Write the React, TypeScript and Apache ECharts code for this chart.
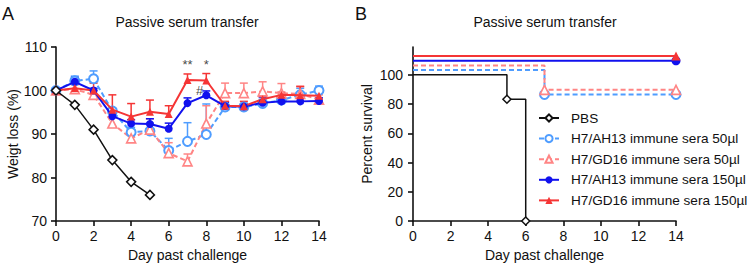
import React, { useEffect, useRef } from "react";
import * as echarts from "echarts";

// ---------- Data ----------
const days = [0, 1, 2, 3, 4, 5, 6, 7, 8, 9, 10, 11, 12, 13, 14];
const xTicks = [0, 2, 4, 6, 8, 10, 12, 14];
const weightTicks = [70, 80, 90, 100, 110];
const survivalTicks = [0, 20, 40, 60, 80, 100];

const seriesNames = [
  "PBS",
  "H7/AH13 immune sera 50\u00b5l",
  "H7/GD16 immune sera 50\u00b5l",
  "H7/AH13 immune sera 150\u00b5l",
  "H7/GD16 immune sera 150\u00b5l",
];

// Weight (%) means
const pbsWeight = [100, 96.7, 91, 84, 79, 76];
const ah13Low = [100, 102.2, 102.7, 95.3, 90.4, 90.7, 86.2, 88.3, 89.9, 96.2, 96.2, 97, 97.8, 99, 100];
const gd16Low = [100, 100.3, 99, 92.4, 89, 91, 85.6, 83.7, 92.4, 99.4, 99.4, 99.8, 99.4, 99.2, 97.9];
const ah13High = [100, 102, 100, 94.1, 92.4, 92.3, 91.2, 97.1, 98.9, 96.4, 96.3, 97.2, 97.5, 97.5, 97.6];
const gd16High = [100, 100.5, 100, 95.6, 94, 95.1, 94.6, 102.4, 102.3, 96.5, 96.4, 98, 99, 98.9, 98.8];

// Upper error (SEM) magnitudes
const ah13LowErr = [0, 1.1, 1.8, 0.7, 1.1, 1.8, 2.8, 4.3, 7.0, 1.1, 0.8, 1.0, 0.7, 1.5, 1.0];
const gd16LowErr = [0, 1.0, 1.0, 1.6, 1.5, 2.5, 2.4, 1.7, 4.1, 2.3, 2.3, 2.2, 2.2, 1.8, 1.1];
const ah13HighErr = [0, 1.0, 0.5, 0.9, 0.9, 1.2, 1.3, 1.2, 1.0, 0.9, 0.7, 1.3, 0.8, 0.8, 0.7];
const gd16HighErr = [0, 1.0, 1.7, 3.4, 3.0, 2.7, 1.9, 1.4, 1.6, 1.0, 1.1, 0.6, 0.6, 2.0, 0.7];

// Survival (%) – steps as plotted (with GraphPad offsets)
const pbsSurvival = [[0, 100], [5, 83.3], [6, 0]];
const ah13LowSurvival = [[0, 103.2], [7, 86.5], [14, 86.5]];
const gd16LowSurvival = [[0, 106.4], [7, 89.7], [14, 89.7]];
const ah13HighSurvival = [[0, 109.6], [14, 109.6]];
const gd16HighSurvival = [[0, 112.8], [14, 112.8]];

// Significance annotations
const annotations = [
  { text: "**", day: 7, value: 106 },
  { text: "*", day: 8, value: 106 },
  { text: "#", day: 7.65, value: 100 },
];

// ---------- Styles ----------
const FONT = "Liberation Sans, Arial, Helvetica, sans-serif";
const BLACK = "#111111";
const LBLUE = "#4f9dff";
const PINK = "#ff8585";
const BLUE = "#1111ee";
const RED = "#f53535";

const pair = (arr: number[]) => arr.map((v, i) => [days[i], v]);

function errorSeries(means: number[], errs: number[], color: string, width: number) {
  return {
    type: "custom",
    xAxisIndex: 0,
    yAxisIndex: 0,
    z: 1,
    silent: true,
    data: means.map((m, i) => [days[i], m, m + errs[i]]).filter((d, i) => errs[i] > 0),
    renderItem: (params: any, api: any) => {
      const x = api.value(0);
      const p0 = api.coord([x, api.value(1)]);
      const p1 = api.coord([x, api.value(2)]);
      const half = 4;
      return {
        type: "group",
        children: [
          {
            type: "line",
            shape: { x1: p0[0], y1: p0[1], x2: p1[0], y2: p1[1] },
            style: { stroke: color, lineWidth: width },
          },
          {
            type: "line",
            shape: { x1: p1[0] - half, y1: p1[1], x2: p1[0] + half, y2: p1[1] },
            style: { stroke: color, lineWidth: width },
          },
        ],
      };
    },
  };
}

function axisCommon() {
  return {
    axisLine: { show: true, onZero: false, lineStyle: { color: BLACK, width: 1.6 } },
    axisTick: { show: true, inside: false, length: 5, lineStyle: { color: BLACK, width: 1.6 } },
    splitLine: { show: false },
    axisLabel: { color: BLACK, fontSize: 14, fontFamily: FONT },
    nameTextStyle: { color: BLACK, fontSize: 14, fontFamily: FONT },
  };
}

const titleStyle = (size: number) => ({ fontSize: size, fontWeight: "normal", color: BLACK, fontFamily: FONT });

export default function App() {
  const ref = useRef<HTMLDivElement>(null);

  useEffect(() => {
    if (!ref.current) return;
    const chart = echarts.init(ref.current, undefined, { renderer: "svg" });

    const option: any = {
      animation: false,
      backgroundColor: "#ffffff",
      textStyle: { fontFamily: FONT },
      title: [
        { text: "A", left: 2, top: 5, padding: 0, textStyle: titleStyle(18) },
        { text: "B", left: 355, top: 5, padding: 0, textStyle: titleStyle(18) },
        { text: "Passive serum transfer", left: 187, textAlign: "center", top: 15, padding: 0, textStyle: titleStyle(14) },
        { text: "Passive serum transfer", left: 545, textAlign: "center", top: 15, padding: 0, textStyle: titleStyle(14) },
      ],
      grid: [
        { left: 56, width: 263, top: 47, height: 176 },
        { left: 413, width: 263, top: 47, height: 176 },
      ],
      legend: {
        data: seriesNames,
        orient: "vertical",
        left: 533,
        top: 106,
        padding: 5,
        itemWidth: 20,
        itemHeight: 9,
        itemGap: 6.6,
        textStyle: { fontSize: 13.6, color: BLACK, fontFamily: FONT, padding: [0, 0, 0, 7] },
      },
      xAxis: [
        {
          ...axisCommon(),
          type: "value",
          gridIndex: 0,
          min: 0,
          max: 14,
          interval: 2,
          name: "Day past challenge",
          nameLocation: "middle",
          nameGap: 27,
          axisLabel: { ...axisCommon().axisLabel, margin: 8, customValues: xTicks },
          axisTick: { ...axisCommon().axisTick, customValues: xTicks },
        },
        {
          ...axisCommon(),
          type: "value",
          gridIndex: 1,
          min: 0,
          max: 14,
          interval: 2,
          name: "Day past challenge",
          nameLocation: "middle",
          nameGap: 27,
          axisLabel: { ...axisCommon().axisLabel, margin: 8, customValues: xTicks },
          axisTick: { ...axisCommon().axisTick, customValues: xTicks },
        },
      ],
      yAxis: [
        {
          ...axisCommon(),
          type: "value",
          gridIndex: 0,
          min: 70,
          max: 110,
          interval: 10,
          name: "Weigt loss (%)",
          nameLocation: "middle",
          nameGap: 36,
          axisLabel: { ...axisCommon().axisLabel, margin: 9, customValues: weightTicks },
          axisTick: { ...axisCommon().axisTick, customValues: weightTicks },
        },
        {
          ...axisCommon(),
          type: "value",
          gridIndex: 1,
          min: 0,
          max: 119,
          interval: 20,
          name: "Percent survival",
          nameLocation: "middle",
          nameGap: 39,
          axisLabel: { ...axisCommon().axisLabel, margin: 10, customValues: survivalTicks },
          axisTick: { ...axisCommon().axisTick, customValues: survivalTicks },
        },
      ],
      series: [
        // ---- Panel A: error bars ----
        errorSeries(ah13Low, ah13LowErr, LBLUE, 1.5),
        errorSeries(gd16Low, gd16LowErr, PINK, 1.5),
        errorSeries(ah13High, ah13HighErr, BLUE, 1.5),
        errorSeries(gd16High, gd16HighErr, RED, 1.5),
        // ---- Panel A: lines ----
        {
          name: "A-" + seriesNames[1],
          type: "line",
          xAxisIndex: 0,
          yAxisIndex: 0,
          data: pair(ah13Low),
          symbol: "circle",
          symbolSize: 9,
          lineStyle: { color: LBLUE, width: 2, type: [5, 3] },
          itemStyle: { color: "#ffffff", borderColor: LBLUE, borderWidth: 2 },
          z: 2,
        },
        {
          name: "A-" + seriesNames[2],
          type: "line",
          xAxisIndex: 0,
          yAxisIndex: 0,
          data: pair(gd16Low),
          symbol: "triangle",
          symbolSize: 9,
          lineStyle: { color: PINK, width: 2, type: [5, 3] },
          itemStyle: { color: "#ffffff", borderColor: PINK, borderWidth: 1.6 },
          z: 2,
        },
        {
          name: "A-" + seriesNames[3],
          type: "line",
          xAxisIndex: 0,
          yAxisIndex: 0,
          data: pair(ah13High),
          symbol: "circle",
          symbolSize: 8,
          lineStyle: { color: BLUE, width: 2 },
          itemStyle: { color: BLUE },
          z: 3,
        },
        {
          name: "A-" + seriesNames[4],
          type: "line",
          xAxisIndex: 0,
          yAxisIndex: 0,
          data: pair(gd16High),
          symbol: "triangle",
          symbolSize: 8,
          lineStyle: { color: RED, width: 2 },
          itemStyle: { color: RED },
          z: 3,
        },
        {
          name: "A-" + seriesNames[0],
          type: "line",
          xAxisIndex: 0,
          yAxisIndex: 0,
          data: pair(pbsWeight),
          symbol: "diamond",
          symbolSize: 9,
          lineStyle: { color: BLACK, width: 1.5 },
          itemStyle: { color: "#ffffff", borderColor: BLACK, borderWidth: 1.5 },
          z: 4,
        },
        {
          type: "scatter",
          xAxisIndex: 0,
          yAxisIndex: 0,
          symbolSize: 0,
          silent: true,
          data: annotations.map((a) => ({ name: a.text, value: [a.day, a.value] })),
          label: { show: true, position: "inside", formatter: "{b}", color: BLACK, fontSize: 13, fontFamily: FONT },
          z: 5,
        },
        // ---- Panel B: survival ----
        {
          name: seriesNames[0],
          type: "line",
          step: "end",
          xAxisIndex: 1,
          yAxisIndex: 1,
          data: pbsSurvival.map((d, i) => ({ value: d, symbol: i === 0 ? "none" : "diamond" })),
          symbol: "diamond",
          symbolSize: 8,
          lineStyle: { color: BLACK, width: 1.5 },
          itemStyle: { color: "#ffffff", borderColor: BLACK, borderWidth: 1.5 },
          z: 4,
        },
        {
          name: seriesNames[1],
          type: "line",
          step: "end",
          xAxisIndex: 1,
          yAxisIndex: 1,
          data: ah13LowSurvival.map((d, i) => ({ value: d, symbol: i === 0 ? "none" : "circle" })),
          symbol: "circle",
          symbolSize: 9,
          lineStyle: { color: LBLUE, width: 2, type: [5, 3] },
          itemStyle: { color: "#ffffff", borderColor: LBLUE, borderWidth: 2 },
        },
        {
          name: seriesNames[2],
          type: "line",
          step: "end",
          xAxisIndex: 1,
          yAxisIndex: 1,
          data: gd16LowSurvival.map((d, i) => ({ value: d, symbol: i === 0 ? "none" : "triangle" })),
          symbol: "triangle",
          symbolSize: 9,
          lineStyle: { color: PINK, width: 2, type: [5, 3] },
          itemStyle: { color: "#ffffff", borderColor: PINK, borderWidth: 1.6 },
        },
        {
          name: seriesNames[3],
          type: "line",
          step: "end",
          xAxisIndex: 1,
          yAxisIndex: 1,
          data: ah13HighSurvival.map((d, i) => ({ value: d, symbol: i === 0 ? "none" : "circle" })),
          symbol: "circle",
          symbolSize: 9,
          lineStyle: { color: BLUE, width: 2 },
          itemStyle: { color: BLUE },
        },
        {
          name: seriesNames[4],
          type: "line",
          step: "end",
          xAxisIndex: 1,
          yAxisIndex: 1,
          data: gd16HighSurvival.map((d, i) => ({ value: d, symbol: i === 0 ? "none" : "triangle" })),
          symbol: "triangle",
          symbolSize: 9,
          lineStyle: { color: RED, width: 2 },
          itemStyle: { color: RED },
        },
      ],
    };

    chart.setOption(option);
    return () => chart.dispose();
  }, []);

  return (
    <div
      ref={ref}
      style={{ position: "fixed", left: 0, top: 0, width: 750, height: 267, background: "#fff" }}
    />
  );
}
